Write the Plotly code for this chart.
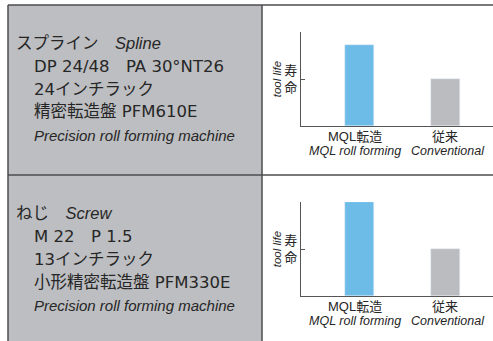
import plotly.graph_objects as go

# Data
categories = ["MQL転造", "従来"]
category_subtitles = ["MQL roll forming", "Conventional"]
spline_life = [1.72, 1.0]
screw_life = [2.0, 1.0]
bar_colors = ["#6dbbe7", "#bbbcbf"]
y_tick_vals = [1]
y_tick_text = ["寿<br>命"]
y_title = "<i>tool life</i>"

ITALIC = '<span style="font-family:Liberation Sans, Arial;font-style:italic">{}</span>'

spline_lines = [
    "スプライン　" + ITALIC.format("Spline"),
    "DP 24/48　PA 30°NT26",
    "24インチラック",
    "精密転造盤 PFM610E",
    ITALIC.format("Precision roll forming machine"),
]
screw_lines = [
    "ねじ　" + ITALIC.format("Screw"),
    "M 22　P 1.5",
    "13インチラック",
    "小形精密転造盤 PFM330E",
    ITALIC.format("Precision roll forming machine"),
]

W, H = 493, 341
FONT = "Liberation Sans, Arial, Noto Sans CJK JP, sans-serif"
TEXT_FONT = "DejaVu Sans, Noto Sans CJK JP, sans-serif"
LINE = "#4d4d4f"
PANEL = "#bdbec1"
INK = "#262626"


def px(x):
    return x / W


def py(y):
    return 1 - y / H


fig = go.Figure()
fig.add_trace(go.Bar(x=categories, y=spline_life, marker_color=bar_colors,
                     width=0.337, xaxis="x", yaxis="y", showlegend=False))
fig.add_trace(go.Bar(x=categories, y=screw_life, marker_color=bar_colors,
                     width=0.337, xaxis="x2", yaxis="y2", showlegend=False))

xcommon = dict(
    type="category", range=[-0.68, 1.553], showgrid=False, zeroline=False,
    showline=True, linecolor="#555", linewidth=1.2, ticks="",
    showticklabels=False, automargin=False, fixedrange=True,
)
ycommon = dict(
    range=[0, 2], showgrid=False, zeroline=False, showline=True,
    linecolor="#555", linewidth=1.2, ticks="inside", ticklen=4,
    tickcolor="#555", tickwidth=1, tickmode="array", tickvals=y_tick_vals,
    ticktext=y_tick_text, tickfont=dict(size=13, color=INK, family=FONT),
    title=dict(text=y_title, font=dict(size=11.5, color=INK, family=FONT),
               standoff=0),
    automargin=False, fixedrange=True,
)

fig.update_layout(
    width=W, height=H, margin=dict(l=0, r=0, t=0, b=0),
    paper_bgcolor="white", plot_bgcolor="white", bargap=0,
    font=dict(family=FONT, color=INK),
    xaxis=dict(domain=[px(301), 1], anchor="y", **xcommon),
    yaxis=dict(domain=[py(126), py(32)], anchor="x", **ycommon),
    xaxis2=dict(domain=[px(301), 1], anchor="y2", **xcommon),
    yaxis2=dict(domain=[py(296), py(202)], anchor="x2", **ycommon),
)

shapes = [
    dict(type="rect", xref="paper", yref="paper", x0=px(8), x1=px(262),
         y0=0, y1=py(5), fillcolor=PANEL, line_width=0, layer="below"),
    dict(type="line", xref="paper", yref="paper", x0=px(8), x1=1,
         y0=py(5), y1=py(5), line=dict(color=LINE, width=1.5)),
    dict(type="line", xref="paper", yref="paper", x0=px(8), x1=1,
         y0=py(175), y1=py(175), line=dict(color=LINE, width=1.5)),
    dict(type="line", xref="paper", yref="paper", x0=px(8), x1=px(8),
         y0=0, y1=py(5), line=dict(color=LINE, width=1.5)),
    dict(type="line", xref="paper", yref="paper", x0=px(262), x1=px(262),
         y0=0, y1=py(5), line=dict(color=LINE, width=1.5)),
]
fig.update_layout(shapes=shapes)

annotations = []
line_y = [43, 66, 89, 112, 135]
for offset, lines in ((0, spline_lines), (170, screw_lines)):
    for i, text in enumerate(lines):
        indent = 14 if i == 0 else 32
        size = 15 if i == 4 else 16.5
        annotations.append(dict(
            text=text, xref="paper", yref="paper", x=px(indent),
            y=py(line_y[i] + offset), xanchor="left", yanchor="middle",
            showarrow=False, font=dict(size=size, color=INK, family=TEXT_FONT),
        ))

# Category labels under each bar: Japanese name with English subtitle
name_shift = [-4, 0]
sub_shift = [-4, 3]
for xref, axis_y in (("x", 126), ("x2", 296)):
    for k, (cat, sub) in enumerate(zip(categories, category_subtitles)):
        annotations.append(dict(
            text=cat, xref=xref, yref="paper", x=cat, y=py(axis_y + 10),
            xanchor="center", yanchor="middle", showarrow=False,
            xshift=name_shift[k],
            font=dict(size=13, color=INK, family=FONT),
        ))
        annotations.append(dict(
            text="<i>%s</i>" % sub, xref=xref, yref="paper", x=cat,
            y=py(axis_y + 25), xanchor="center", yanchor="middle",
            showarrow=False, xshift=sub_shift[k],
            font=dict(size=12.5, color=INK, family=FONT),
        ))
fig.update_layout(annotations=annotations)

fig.write_html("out.html")
